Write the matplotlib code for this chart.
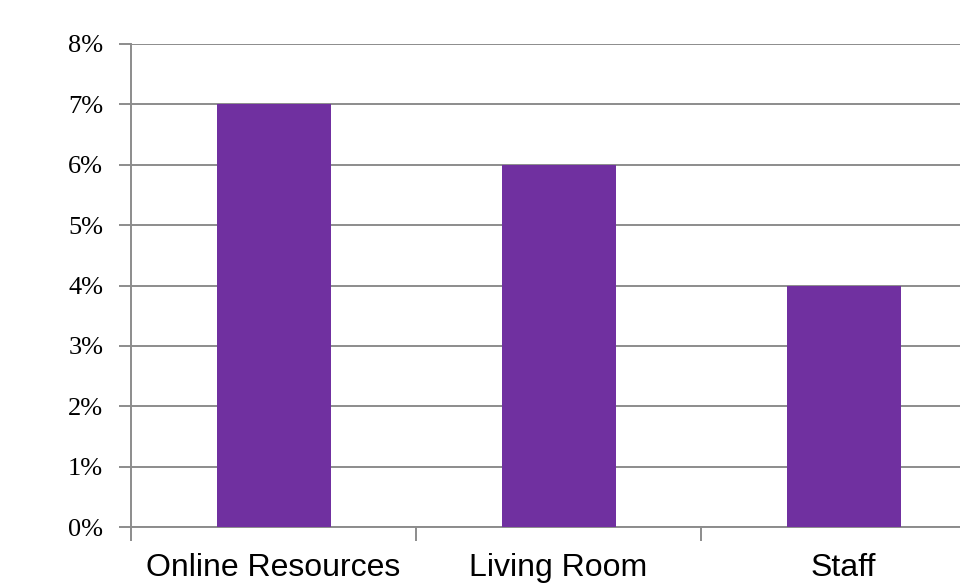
import numpy as np
from matplotlib import pyplot as plt
from matplotlib.ticker import FixedLocator, PercentFormatter

categories = ['Online Resources', 'Living Room', 'Staff']
values = [7, 6, 4]
y_ticks = [0, 1, 2, 3, 4, 5, 6, 7, 8]

grey = '#8c8c8c'
purple = '#7030a0'

fig = plt.figure(figsize=(9.6, 5.88), dpi=100)
ax = fig.add_axes([131/960, 61/588, 855/960, 483/588])

x = np.arange(len(categories))
ax.bar(x, values, width=0.4, color=purple, zorder=3)

ax.set_xlim(-0.5, len(categories) - 0.5)
ax.set_ylim(0, 8)
ax.set_yticks(y_ticks)
ax.yaxis.set_major_formatter(PercentFormatter(decimals=0))
ax.yaxis.grid(True, color=grey, linewidth=1.4, zorder=0)

# tick marks sit between categories, labels sit under the bars
ax.xaxis.set_major_locator(FixedLocator(np.arange(-0.5, len(categories), 1.0)))
ax.xaxis.set_major_formatter(plt.NullFormatter())
ax.xaxis.set_minor_locator(FixedLocator(x))
ax.set_xticklabels(categories, minor=True)
ax.tick_params(axis='x', which='major', length=10, width=1.4, color=grey, direction='out')
ax.tick_params(axis='x', which='minor', length=0, pad=19)
ax.tick_params(axis='y', length=9, width=1.4, color=grey, direction='out', pad=11)

for lab in ax.get_yticklabels():
    lab.set_fontfamily('Liberation Serif')
    lab.set_fontsize(19)
for lab in ax.get_xticklabels(minor=True):
    lab.set_fontfamily('Liberation Sans')
    lab.set_fontsize(23)

for side in ['top', 'right']:
    ax.spines[side].set_visible(False)
for side in ['left', 'bottom']:
    ax.spines[side].set_color(grey)
    ax.spines[side].set_linewidth(1.4)

fig.savefig('out.png', dpi=100)
